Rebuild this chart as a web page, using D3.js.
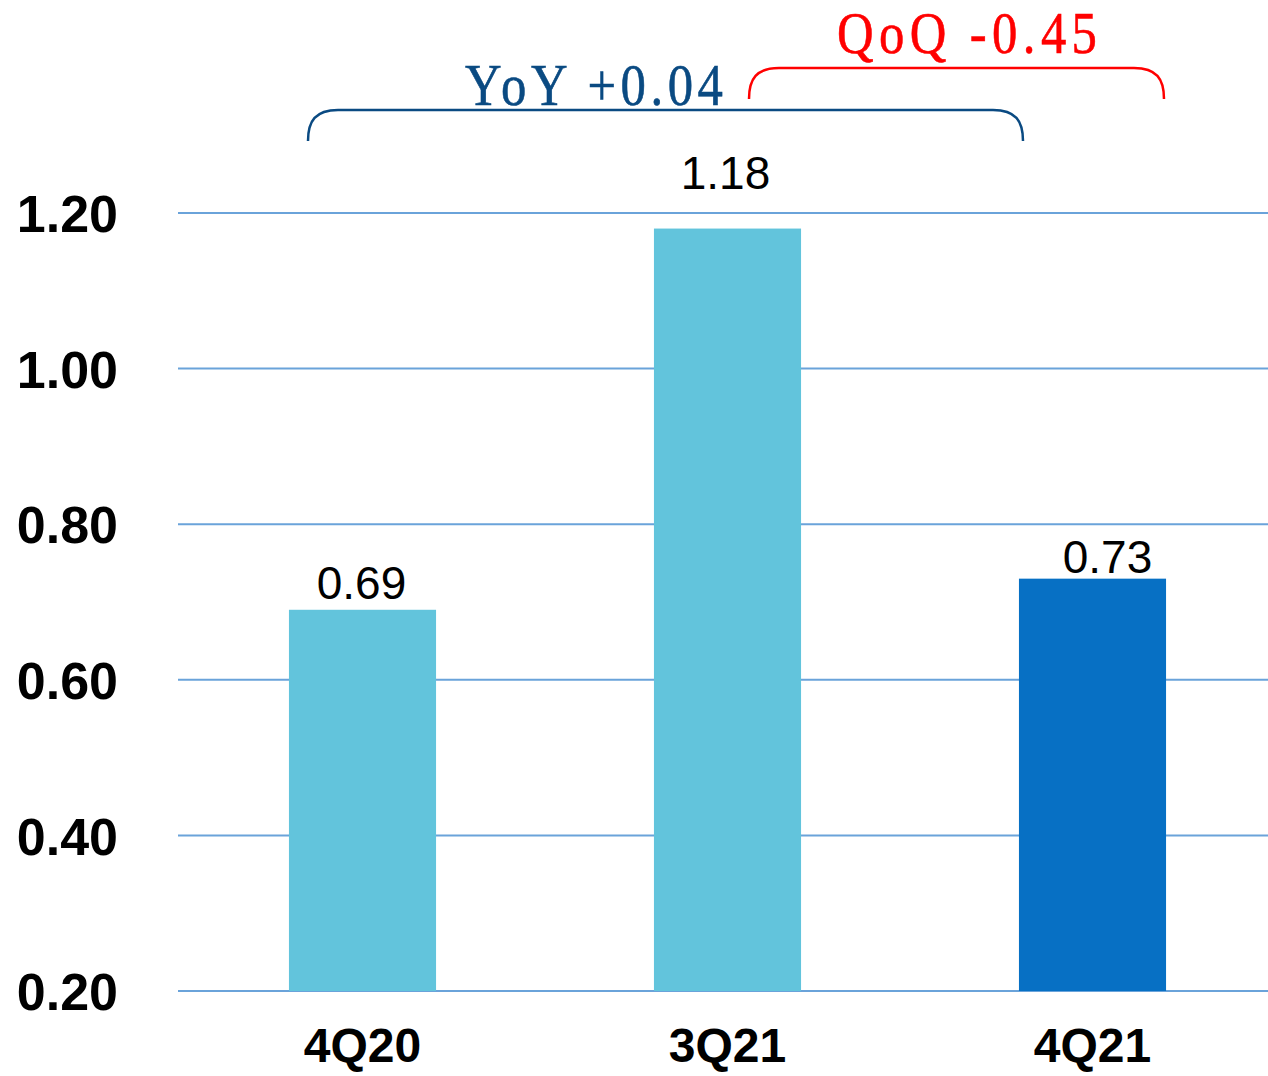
<!DOCTYPE html>
<html><head><meta charset="utf-8">
<script src="https://cdn.jsdelivr.net/npm/d3@7"></script>
<style>html,body{margin:0;padding:0;background:#fff;overflow:hidden}</style>
</head><body>
<svg id="chart" width="1268" height="1076"></svg>
<script>
const categories = ["4Q20", "3Q21", "4Q21"];
const values = [0.69, 1.18, 0.73];
const yTicks = [0.20, 0.40, 0.60, 0.80, 1.00, 1.20];
const yoyText = "YoY +0.04";
const qoqText = "QoQ -0.45";

const barColors = ["#62c4dc", "#62c4dc", "#0770c4"];
const labelGap = [11, 40, 6];
const labelDx = [-1, -2, 15];

const svg = d3.select("#chart");
const x = d3.scaleBand().domain(categories).range([180, 1275]).paddingInner(0.597).paddingOuter(0.2985);
const y = d3.scaleLinear().domain([0.2, 1.2]).range([991, 213]);

// gridlines
svg.append("g").selectAll("line").data(yTicks).join("line")
  .attr("x1", 178).attr("x2", 1268)
  .attr("y1", d => y(d)).attr("y2", d => y(d))
  .attr("stroke", "#6aa3da").attr("stroke-width", 2);

// y axis labels
const yAxis = d3.axisLeft(y).tickValues(yTicks).tickFormat(d3.format(".2f")).tickSize(0).tickPadding(0);
const ya = svg.append("g").attr("transform", "translate(118,0)").call(yAxis);
ya.select(".domain").remove();
ya.selectAll("text").attr("font-family", "Liberation Sans, Arial, sans-serif")
  .attr("font-weight", "bold").attr("font-size", 52).attr("fill", "#000").attr("dy", "0.36em");

// bars
svg.append("g").selectAll("rect").data(values).join("rect")
  .attr("x", (d, i) => x(categories[i]))
  .attr("width", x.bandwidth())
  .attr("y", d => y(d))
  .attr("height", d => y(0.2) - y(d))
  .attr("fill", (d, i) => barColors[i]);

// value labels
svg.append("g").selectAll("text").data(values).join("text")
  .attr("x", (d, i) => x(categories[i]) + x.bandwidth() / 2 + labelDx[i])
  .attr("y", (d, i) => y(d) - labelGap[i])
  .attr("text-anchor", "middle")
  .attr("font-family", "Liberation Sans, Arial, sans-serif")
  .attr("font-size", 46).attr("fill", "#000")
  .text(d => d3.format(".2f")(d));

// x axis labels
const xAxis = d3.axisBottom(x).tickSize(0).tickPadding(0);
const xa = svg.append("g").attr("transform", "translate(0,1062)").call(xAxis);
xa.select(".domain").remove();
xa.selectAll("text").attr("dy", 0).attr("font-family", "Liberation Sans, Arial, sans-serif")
  .attr("font-weight", "bold").attr("font-size", 48).attr("fill", "#000");

// braces
function brace(x0, x1, yTop, yBot, rx) {
  const p = d3.path();
  p.moveTo(x0, yBot);
  p.bezierCurveTo(x0, yTop + (yBot - yTop) * 0.35, x0 + rx * 0.25, yTop, x0 + rx, yTop);
  p.lineTo(x1 - rx, yTop);
  p.bezierCurveTo(x1 - rx * 0.25, yTop, x1, yTop + (yBot - yTop) * 0.35, x1, yBot);
  return p.toString();
}
svg.append("path").attr("d", brace(308, 1023, 110, 141, 30))
  .attr("fill", "none").attr("stroke", "#0a4a82").attr("stroke-width", 2.5);
svg.append("path").attr("d", brace(749, 1164, 68, 99, 30))
  .attr("fill", "none").attr("stroke", "#ff0000").attr("stroke-width", 2.5);

function monoText(txt, x0, base, width, color) {
  const sx = 0.86;
  svg.append("text")
    .attr("transform", `translate(${x0},${base}) scale(${sx},1)`)
    .attr("x", 0).attr("y", 0)
    .attr("font-family", "Liberation Serif, Times New Roman, serif")
    .attr("font-size", 59).attr("fill", color)
    .attr("stroke", color).attr("stroke-width", 0.6)
    .attr("textLength", width / sx).attr("lengthAdjust", "spacing")
    .text(txt);
}
monoText(yoyText, 465, 105, 258, "#0a4a82");
monoText(qoqText, 837, 53, 260, "#ff0000");
</script>
</body></html>
